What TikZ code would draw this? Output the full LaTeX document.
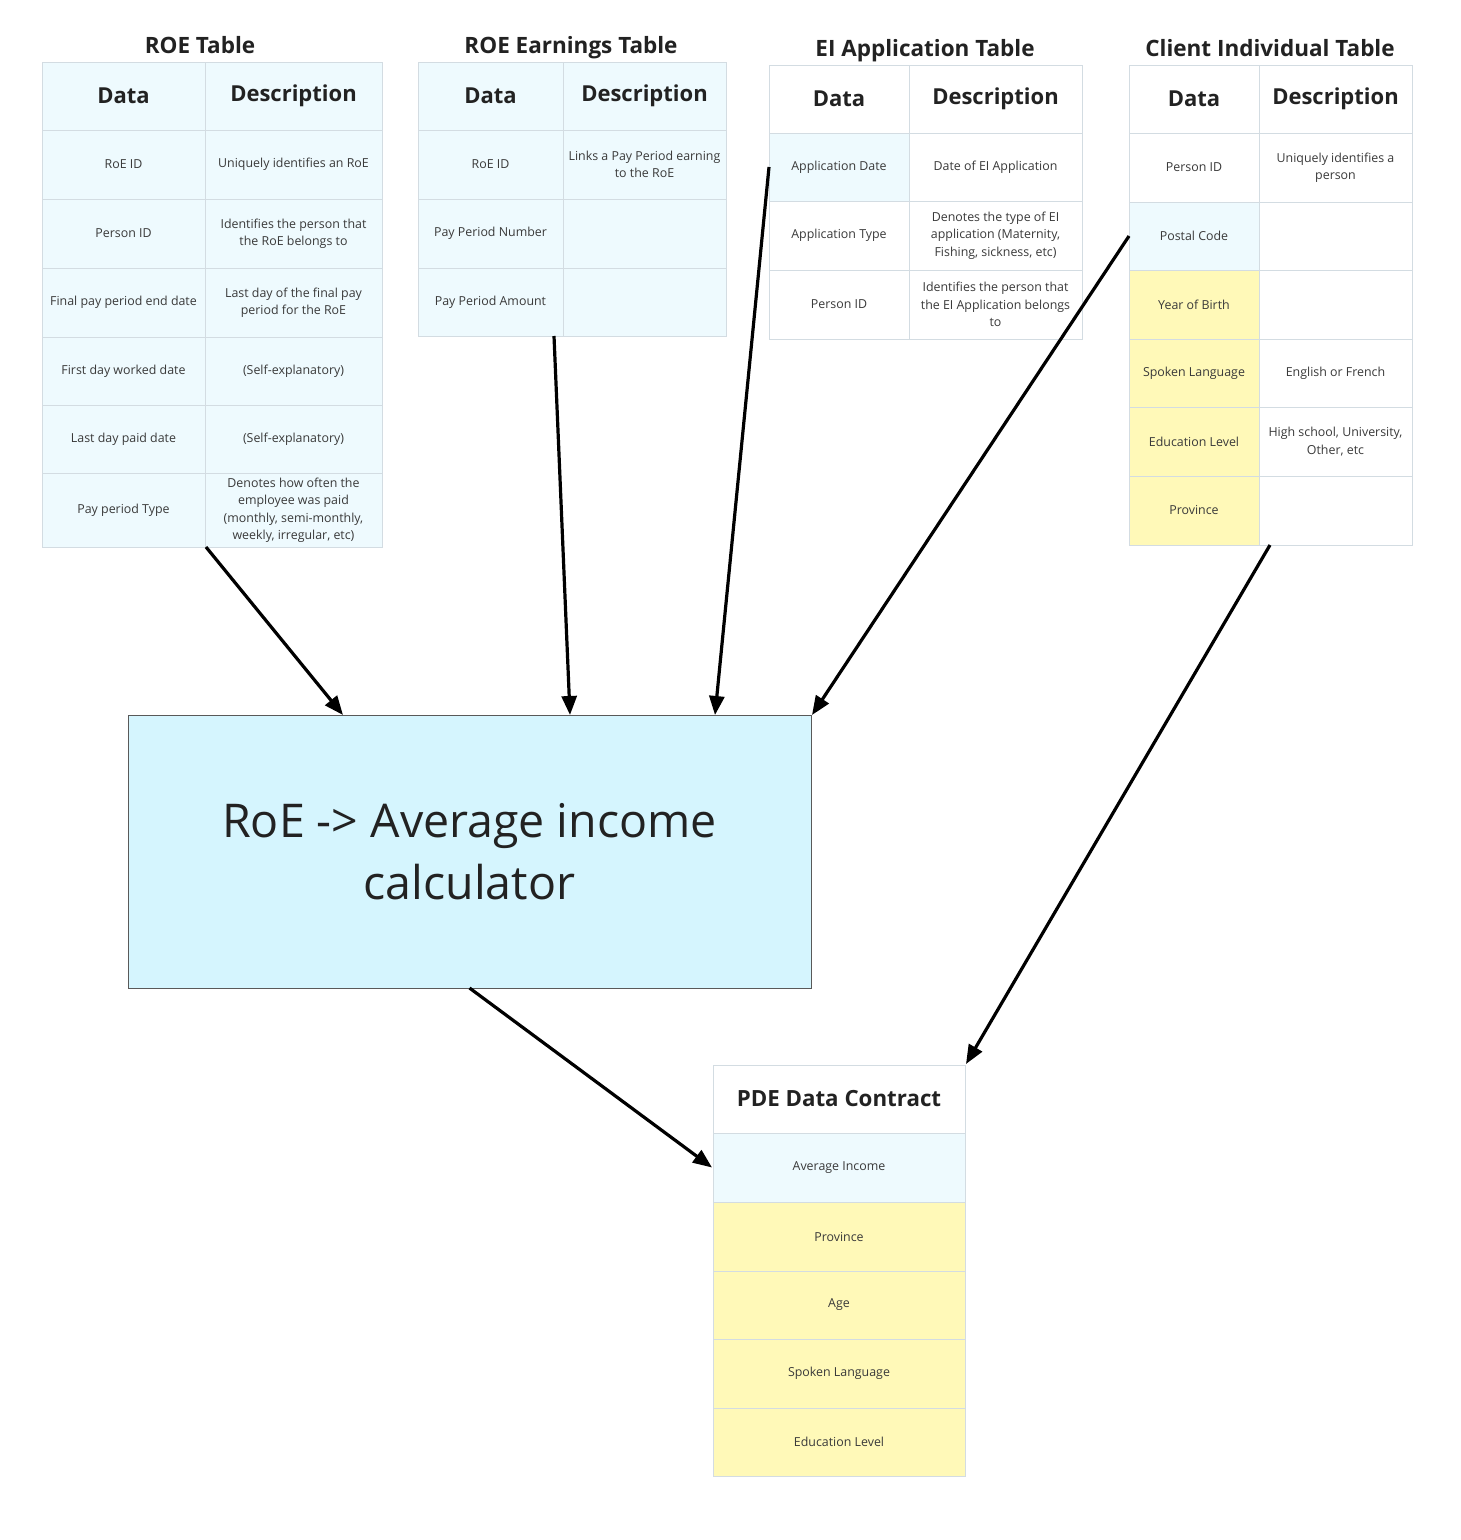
\documentclass[tikz,border=0pt]{standalone}
\usepackage{fontspec}
\setmainfont{Open Sans}
\usetikzlibrary{arrows.meta,calc}
\definecolor{bluecell}{HTML}{EEFAFE}
\definecolor{yelcell}{HTML}{FFF9B8}
\definecolor{calcfill}{HTML}{D5F5FE}
\definecolor{bord}{HTML}{D3DCE2}
\definecolor{txt}{HTML}{3A3A3A}
\definecolor{hdtxt}{HTML}{222222}
\newcommand\tcell[7]{%
  \node[tcellst, fill=#6, minimum width=#4pt, minimum height=#5pt] (#1) at ({#2+#4/2},{#3+#5/2}) {#7};}
\newcommand\hdfont{\fontsize{22}{26}\selectfont\bfseries\color{hdtxt}}
\begin{document}
\begin{tikzpicture}[x=1pt,y=-1pt,
  tcellst/.style={draw=bord, line width=1pt, inner sep=0pt, outer sep=0pt, align=center,
     text=txt, font=\fontsize{12.4}{17.5}\selectfont},
  ttl/.style={font=\fontsize{22.5}{26}\selectfont\bfseries, text=hdtxt, inner sep=0pt, anchor=base},
  conn/.style={line width=3.2pt, black, -{Triangle[length=19pt,width=15pt]}}
]
\useasboundingbox (0,0) rectangle (1460,1540);
\fill[white] (0,0) rectangle (1460,1540);

% ROE Table
\node[ttl] (roeT) at (200,53) {ROE Table};
\tcell{roeA0}{42}{62}{163}{68}{bluecell}{\hdfont Data}
\tcell{roeB0}{205}{62}{177}{68}{bluecell}{\hdfont Description}
\tcell{roeA1}{42}{130}{163}{69}{bluecell}{RoE ID}
\tcell{roeB1}{205}{130}{177}{69}{bluecell}{Uniquely identifies an RoE}
\tcell{roeA2}{42}{199}{163}{69}{bluecell}{Person ID}
\tcell{roeB2}{205}{199}{177}{69}{bluecell}{Identifies the person that\\the RoE belongs to}
\tcell{roeA3}{42}{268}{163}{69}{bluecell}{Final pay period end date}
\tcell{roeB3}{205}{268}{177}{69}{bluecell}{Last day of the final pay\\period for the RoE}
\tcell{roeA4}{42}{337}{163}{68}{bluecell}{First day worked date}
\tcell{roeB4}{205}{337}{177}{68}{bluecell}{(Self-explanatory)}
\tcell{roeA5}{42}{405}{163}{68}{bluecell}{Last day paid date}
\tcell{roeB5}{205}{405}{177}{68}{bluecell}{(Self-explanatory)}
\tcell{roeA6}{42}{473}{163}{74}{bluecell}{Pay period Type}
\tcell{roeB6}{205}{473}{177}{74}{bluecell}{Denotes how often the\\employee was paid\\(monthly, semi-monthly,\\weekly, irregular, etc)}

% ROE Earnings Table
\node[ttl] (earT) at (571,53) {ROE Earnings Table};
\tcell{earA0}{418}{62}{145}{68}{bluecell}{\hdfont Data}
\tcell{earB0}{563}{62}{163}{68}{bluecell}{\hdfont Description}
\tcell{earA1}{418}{130}{145}{69}{bluecell}{RoE ID}
\tcell{earB1}{563}{130}{163}{69}{bluecell}{Links a Pay Period earning\\to the RoE}
\tcell{earA2}{418}{199}{145}{69}{bluecell}{Pay Period Number}
\tcell{earB2}{563}{199}{163}{69}{bluecell}{}
\tcell{earA3}{418}{268}{145}{68}{bluecell}{Pay Period Amount}
\tcell{earB3}{563}{268}{163}{68}{bluecell}{}

% EI Application Table
\node[ttl] (eiT) at (925,56) {EI Application Table};
\tcell{eiA0}{769}{65}{140}{68}{white}{\hdfont Data}
\tcell{eiB0}{909}{65}{173}{68}{white}{\hdfont Description}
\tcell{eiA1}{769}{133}{140}{68}{bluecell}{Application Date}
\tcell{eiB1}{909}{133}{173}{68}{white}{Date of EI Application}
\tcell{eiA2}{769}{201}{140}{69}{white}{Application Type}
\tcell{eiB2}{909}{201}{173}{69}{white}{Denotes the type of EI\\application (Maternity,\\Fishing, sickness, etc)}
\tcell{eiA3}{769}{270}{140}{69}{white}{Person ID}
\tcell{eiB3}{909}{270}{173}{69}{white}{Identifies the person that\\the EI Application belongs\\to}

% Client Individual Table
\node[ttl] (cliT) at (1270,56) {Client Individual Table};
\tcell{cliA0}{1129}{65}{130}{68}{white}{\hdfont Data}
\tcell{cliB0}{1259}{65}{153}{68}{white}{\hdfont Description}
\tcell{cliA1}{1129}{133}{130}{69}{white}{Person ID}
\tcell{cliB1}{1259}{133}{153}{69}{white}{Uniquely identifies a\\person}
\tcell{cliA2}{1129}{202}{130}{68}{bluecell}{Postal Code}
\tcell{cliB2}{1259}{202}{153}{68}{white}{}
\tcell{cliA3}{1129}{270}{130}{69}{yelcell}{Year of Birth}
\tcell{cliB3}{1259}{270}{153}{69}{white}{}
\tcell{cliA4}{1129}{339}{130}{68}{yelcell}{Spoken Language}
\tcell{cliB4}{1259}{339}{153}{68}{white}{English or French}
\tcell{cliA5}{1129}{407}{130}{69}{yelcell}{Education Level}
\tcell{cliB5}{1259}{407}{153}{69}{white}{High school, University,\\Other, etc}
\tcell{cliA6}{1129}{476}{130}{69}{yelcell}{Province}
\tcell{cliB6}{1259}{476}{153}{69}{white}{}

% Calculator box
\node[draw=black!65, line width=1pt, fill=calcfill, minimum width=683pt, minimum height=273pt,
  inner sep=0pt, outer sep=0pt, align=center, text=hdtxt,
  font=\fontsize{46.5}{62}\selectfont] (calc) at (469.5,851.5) {RoE -> Average income\\calculator};

% PDE Data Contract
\tcell{pde0}{713}{1065}{252}{68}{white}{\fontsize{22.3}{26}\selectfont\bfseries\color{hdtxt}PDE Data Contract}
\tcell{pde1}{713}{1133}{252}{69}{bluecell}{Average Income}
\tcell{pde2}{713}{1202}{252}{69}{yelcell}{Province}
\tcell{pde3}{713}{1271}{252}{68}{yelcell}{Age}
\tcell{pde4}{713}{1339}{252}{69}{yelcell}{Spoken Language}
\tcell{pde5}{713}{1408}{252}{68}{yelcell}{Education Level}

% Connectors
\draw[conn] ($(roeB6.south west)+(1,0)$) -- ($(calc.north west)+(215,0)$);
\draw[conn] ($(earA3.south east)+(-9,0)$) -- ($(calc.north west)+(442,0)$);
\draw[conn] (eiA1.west) -- ($(calc.north west)+(587,0)$);
\draw[conn] (cliA2.west) -- ($(calc.north east)+(1,0)$);
\draw[conn] ($(cliB6.south west)+(11,0)$) -- ($(pde0.north east)+(1,-1)$);
\draw[conn] (calc.south) -- ($(pde1.west)+(-1,0)$);
\end{tikzpicture}
\end{document}
